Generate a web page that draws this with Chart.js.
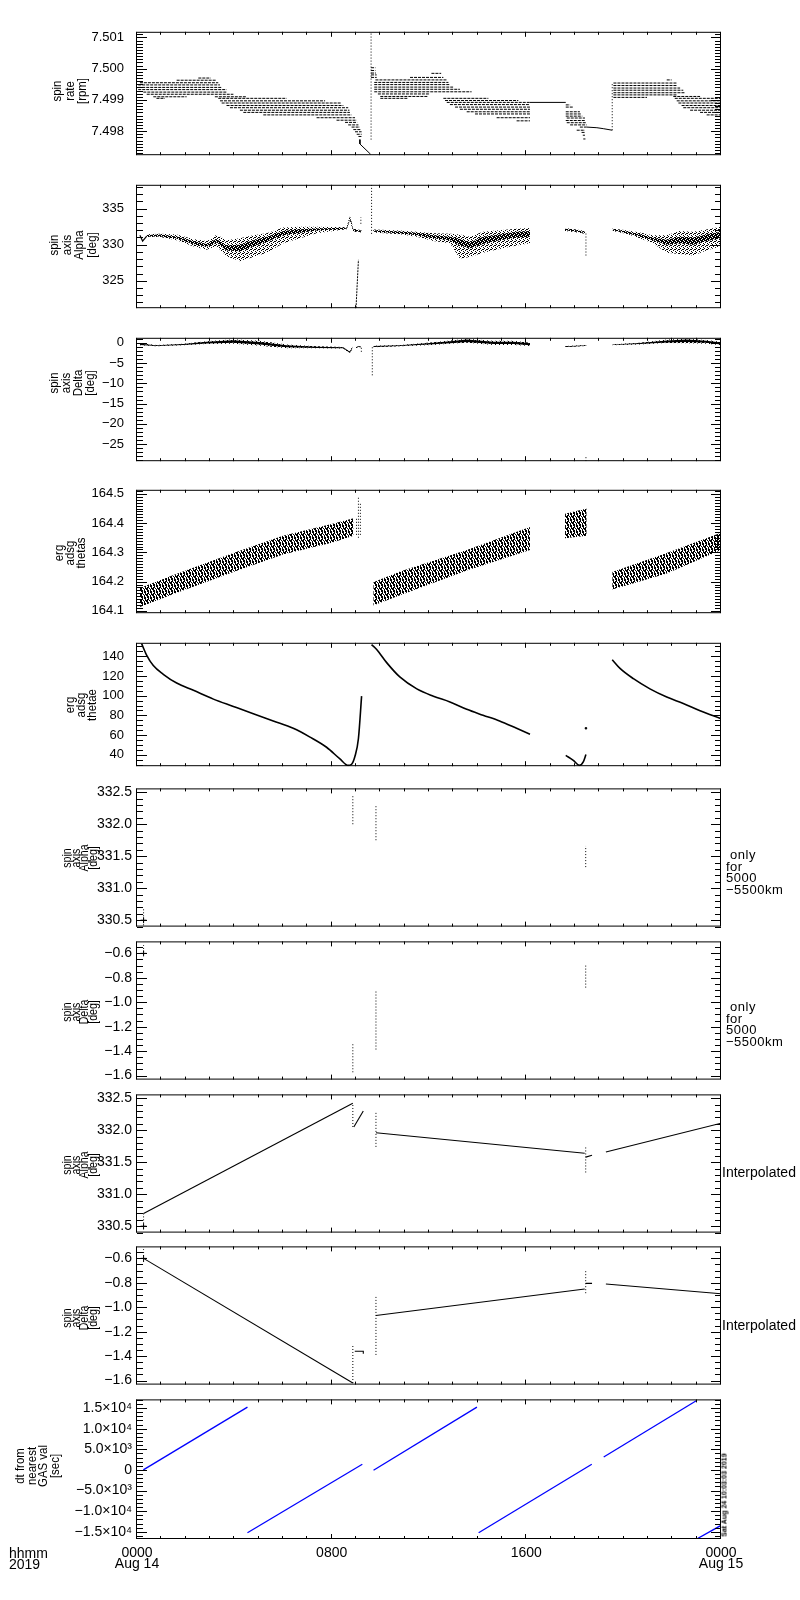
<!DOCTYPE html>
<html><head><meta charset="utf-8">
<script src="https://cdn.jsdelivr.net/npm/chart.js@4.4.0/dist/chart.umd.min.js"></script>
<style>
body{margin:0;background:#fff;width:800px;height:1600px;position:relative;overflow:hidden;font-family:"Liberation Sans",Arial,sans-serif;}
canvas{position:absolute;left:0;}
.t{position:absolute;white-space:pre;color:#000;}
.yt{transform:translate(-50%,-50%) rotate(-90deg) scaleX(0.9);text-align:center;}
</style></head><body>
<script>
// ---------------- time axis ----------------
const xTickHours = [0, 8, 16, 24];
const xTickTop = ['0000', '0800', '1600', '0000'];
const xTickBottom = ['Aug 14', '', '', 'Aug 15'];

// ---------------- panel 1: spin rate [rpm] ----------------
// [tStart(h), tEnd(h), rpm]  quantised dotted rows
const rateRows = [
 [2.52,3.03,7.49970],[1.63,3.27,7.49963],[0.12,3.34,7.49955],[0.05,3.41,7.49948],
 [0.05,3.48,7.49940],[0.05,3.68,7.49933],[0.26,3.68,7.49925],[0.40,3.96,7.49918],
 [0.67,2.04,7.49910],[3.20,4.50,7.49910],[0.80,1.15,7.49905],[3.34,6.15,7.49905],
 [3.41,7.73,7.49897],[3.48,8.40,7.49890],[3.68,8.48,7.49882],[3.82,8.68,7.49875],
 [4.23,8.73,7.49867],[4.37,8.75,7.49860],[5.19,8.82,7.49852],[7.38,8.96,7.49843],
 [8.20,9.03,7.49835],[8.55,9.05,7.49828],[8.68,9.10,7.49820],[8.82,9.16,7.49813],
 [8.89,9.19,7.49805],[8.96,9.23,7.49798],[9.03,9.23,7.49790],[9.10,9.26,7.49783],
 [9.62,9.80,7.50003],[9.62,9.80,7.49994],[9.62,9.82,7.49986],[9.62,9.85,7.49980],
 [9.62,9.85,7.49972],[12.10,12.50,7.49985],[11.22,12.59,7.49972],[9.80,12.73,7.49964],
 [9.75,12.80,7.49956],[9.75,12.86,7.49949],[9.75,12.99,7.49941],[9.75,13.27,7.49934],
 [9.75,13.75,7.49926],[9.90,12.04,7.49919],[10.00,11.97,7.49911],[10.00,11.15,7.49905],
 [12.59,14.44,7.49905],[12.66,15.67,7.49898],[12.73,16.15,7.49892],
 [12.86,16.15,7.49885],[13.07,16.15,7.49877],[13.27,16.15,7.49870],[13.55,16.15,7.49862],
 [13.89,16.15,7.49855],[14.78,16.15,7.49843],[15.60,16.15,7.49833],
 [17.62,17.80,7.49884],[17.62,17.93,7.49877],[17.62,18.20,7.49862],[17.62,18.27,7.49855],
 [17.62,18.30,7.49848],[17.66,18.41,7.49842],[17.62,18.41,7.49834],[17.66,18.48,7.49827],
 [17.80,18.48,7.49820],[18.20,18.48,7.49813],[18.07,18.41,7.49803],[18.27,18.41,7.49796],
 [18.32,18.41,7.49787],[18.34,18.43,7.49775],
 [21.77,21.97,7.49964],[19.58,22.18,7.49954],[19.58,22.18,7.49946],[19.58,22.32,7.49938],
 [19.58,22.45,7.49931],[19.58,22.52,7.49923],[19.58,22.18,7.49916],[19.58,20.96,7.49908],
 [22.04,23.14,7.49911],[22.10,24.00,7.49905],[22.18,24.00,7.49897],[22.25,24.00,7.49890],
 [22.38,24.00,7.49882],[22.45,24.00,7.49875],[22.73,24.00,7.49867],[23.14,24.00,7.49860],
 [23.41,24.00,7.49852]
];
const rateLines = [
 [[9.16,7.49773],[9.16,7.49759],[9.60,7.49726]],
 [[16.15,7.49892],[17.62,7.49892]],
 [[18.48,7.49813],[18.90,7.49811],[19.16,7.49808],[19.53,7.49803]]
];
const rateSpikes = [[9.62,7.49773,7.50118],[19.53,7.49803,7.49952]];
const rateTicks = [7.498, 7.499, 7.500, 7.501];
const rateLabels = ['7.498', '7.499', '7.500', '7.501'];

// ---------------- panel 2: spin axis Alpha [deg] ----------------
// [t, outerLo, coreLo, coreHi, outerHi]
const alphaBandA = [
 [0.40,331.05,331.10,331.35,331.45],[0.95,331.05,331.15,331.40,331.50],
 [1.63,330.60,330.85,331.15,331.40],[2.30,329.80,330.10,330.50,330.80],
 [2.86,329.30,329.70,330.10,330.50],[3.10,329.60,330.00,330.50,330.90],
 [3.27,329.80,330.30,330.80,331.40],[3.68,328.40,329.20,329.90,330.60],
 [4.23,327.70,329.10,330.00,330.90],[4.78,328.30,329.80,330.60,331.30],
 [5.33,328.90,330.40,331.10,331.60],[6.01,330.20,331.30,331.90,332.40],
 [6.70,330.90,331.65,332.15,332.50],[7.38,331.60,331.95,332.25,332.50],
 [8.07,331.90,332.10,332.30,332.45],[8.62,332.15,332.22,332.40,332.45],
 [8.75,333.40,333.50,333.90,334.00],[8.89,331.80,331.85,332.10,332.20],
 [9.23,331.70,331.75,331.95,332.00]
];
const alphaBandB = [
 [9.71,331.70,331.80,332.00,332.10],[10.80,331.45,331.58,331.82,331.95],
 [11.50,331.10,331.30,331.65,331.80],[12.18,330.50,330.90,331.30,331.60],
 [12.86,330.20,330.60,331.10,331.50],[13.27,328.10,329.90,330.80,331.40],
 [13.68,328.30,329.50,330.30,331.10],[14.22,328.90,330.10,331.10,331.80],
 [14.90,329.40,330.60,331.40,332.00],[15.60,329.90,331.00,331.80,332.20],
 [16.15,330.20,331.10,331.90,332.30]
];
const alphaBandC = [
 [17.59,331.90,332.00,332.20,332.30],[18.07,331.70,331.80,332.00,332.10],
 [18.41,331.50,331.60,331.80,331.90]
];
const alphaBandD = [
 [19.53,331.90,332.00,332.15,332.25],[20.10,331.50,331.62,331.88,332.00],
 [20.66,330.90,331.15,331.45,331.70],[21.20,330.20,330.60,330.95,331.30],
 [21.77,328.90,330.00,330.70,331.30],[22.30,328.70,330.20,331.10,331.90],
 [22.86,328.50,330.00,331.00,331.80],[23.40,329.20,330.50,331.40,332.10],
 [24.00,329.80,330.90,331.80,332.50]
];
const alphaLines = [[[0.12,331.3],[0.23,330.5],[0.40,331.2]]];
const alphaSpikes = [[9.64,331.5,338.3],[9.20,332.9,333.8],[18.45,328.5,331.7]];
const alphaSlant = [[9.00,321.2],[9.10,327.9]];
const alphaTicks = [325, 330, 335];
const alphaLabels = ['325', '330', '335'];

// ---------------- panel 3: spin axis Delta [deg] ----------------
const deltaBandA = [
 [0.12,-0.60,-0.50,-0.20,-0.10],[0.80,-0.85,-0.80,-0.60,-0.55],
 [1.90,-0.60,-0.50,-0.30,-0.20],[2.86,-0.30,-0.15,0.25,0.40],
 [3.96,-0.20,0.05,0.65,0.90],[5.05,-0.70,-0.40,0.20,0.50],
 [6.15,-1.30,-1.10,-0.60,-0.40],[7.38,-1.35,-1.25,-0.95,-0.85],
 [8.48,-1.40,-1.30,-1.10,-1.00],[8.75,-2.60,-2.50,-2.20,-2.10],
 [8.86,-1.30,-1.20,-0.90,-0.80]
];
const deltaBandB = [
 [9.71,-1.10,-1.00,-0.80,-0.70],[10.80,-0.85,-0.80,-0.60,-0.55],
 [12.18,-0.50,-0.35,0.00,0.15],[12.86,-0.20,-0.10,0.40,0.60],
 [13.55,0.00,0.20,0.80,1.00],[14.64,-0.50,-0.30,0.30,0.50],
 [15.47,-0.50,-0.30,0.30,0.50],[16.15,-0.75,-0.60,-0.10,0.05]
];
const deltaBandC = [[17.59,-1.05,-1.00,-0.85,-0.80],[18.48,-0.75,-0.70,-0.60,-0.55]];
const deltaBandD = [
 [19.53,-0.60,-0.55,-0.40,-0.35],[20.66,-0.40,-0.30,-0.05,0.05],
 [21.77,-0.05,0.10,0.60,0.80],[22.59,-0.10,0.20,0.80,1.00],
 [23.40,-0.20,0.00,0.50,0.70],[24.00,-0.60,-0.40,0.10,0.30]
];
const deltaLines = [[[9.00,-1.2],[9.10,-0.9],[9.20,-1.0]]];
const deltaSpikes = [[9.67,-8.0,-1.0],[18.45,-29.2,-27.9],[9.22,-2.2,-0.9]];
const deltaTicks = [-25, -20, -15, -10, -5, 0];
const deltaLabels = ['\u221225', '\u221220', '\u221215', '\u221210', '\u22125', '0'];

// ---------------- panel 4: erg adsg thetas ----------------
// [t, lo, hi]
const thetasBandA = [[0.12,164.113,164.178],[1.50,164.158,164.223],[3.96,164.233,164.298],
 [6.00,164.293,164.357],[8.00,164.333,164.397],[8.90,164.357,164.417]];
const thetasBandB = [[9.71,164.118,164.198],[10.81,164.153,164.235],[13.55,164.238,164.308],[16.15,164.308,164.387]];
const thetasBandC = [[17.59,164.348,164.432],[18.48,164.357,164.450]];
const thetasBandD = [[19.53,164.173,164.233],[21.77,164.228,164.298],[24.00,164.308,164.367]];
const thetasSpikes = [[9.02,164.36,164.42],[9.10,164.35,164.49],[9.18,164.36,164.47]];
const thetasTicks = [164.1, 164.2, 164.3, 164.4, 164.5];
const thetasLabels = ['164.1', '164.2', '164.3', '164.4', '164.5'];

// ---------------- panel 5: erg adsg thetae ----------------
const thetaeA = [[0.19,152.7],[0.40,140.9],[0.67,130.5],[1.08,121.7],[1.63,112.8],[2.32,105.4],
 [3.14,96.5],[3.96,89.1],[4.78,81.7],[5.60,74.3],[6.42,66.9],[7.11,58.0],[7.79,47.7],
 [8.34,35.9],[8.68,29.3],[8.82,30.5],[8.96,38.8],[9.10,56.6],[9.23,99.5]];
const thetaeB = [[9.64,151.8],[9.85,146.8],[10.26,133.5],[10.80,119.0],[11.50,106.9],[12.18,99.5],
 [12.86,93.6],[13.55,86.2],[14.22,80.2],[14.90,74.3],[15.60,66.9],[16.15,61.0]];
const thetaeC = [[17.62,39.4],[17.93,34.4],[18.18,29.3],[18.34,32.9],[18.45,40.3]];
const thetaeD = [[19.53,136.4],[19.85,127.6],[20.40,117.2],[21.08,106.9],[21.77,98.6],
 [22.45,92.1],[23.14,84.7],[24.00,76.7]];
const thetaeDots = [[18.45,66.9]];
const thetaeTicks = [40, 60, 80, 100, 120, 140];
const thetaeLabels = ['40', '60', '80', '100', '120', '140'];

// ---------------- panels 6/7: only for 5000-5500km ----------------
const alphaOnlyBars = [[0.27,330.42,330.70],[8.87,332.00,332.44],[9.82,331.75,332.29],[18.44,331.33,331.66]];
const alphaOnlyCross = [[0.27,330.50]];
const deltaOnlyBars = [[0.27,-0.613,-0.533],[8.87,-1.573,-1.333],[9.82,-1.387,-0.900],[18.44,-0.880,-0.700]];
const deltaOnlyCross = [[0.27,-0.60]];
const alphaFineTicks = [330.5, 331.0, 331.5, 332.0, 332.5];
const alphaFineLabels = ['330.5', '331.0', '331.5', '332.0', '332.5'];
const deltaFineTicks = [-1.6, -1.4, -1.2, -1.0, -0.8, -0.6];
const deltaFineLabels = ['\u22121.6', '\u22121.4', '\u22121.2', '\u22121.0', '\u22120.8', '\u22120.6'];

// ---------------- panels 8/9: interpolated ----------------
const alphaInterpLines = [
 [[0.27,330.70],[8.87,332.42]], [[8.91,332.05],[9.30,332.30]],
 [[9.82,331.96],[18.40,331.64]], [[18.44,331.58],[18.70,331.61]],
 [[19.27,331.66],[24.00,332.11]]
];
const alphaInterpBars = [[0.27,330.45,330.70],[8.87,332.05,332.42],[9.82,331.74,332.30],[18.44,331.34,331.74]];
const deltaInterpLines = [
 [[0.27,-0.60],[8.87,-1.62]], [[8.95,-1.36],[9.30,-1.36],[9.30,-1.38]],
 [[9.82,-1.067],[18.40,-0.85]], [[18.44,-0.805],[18.70,-0.805]],
 [[19.27,-0.81],[24.00,-0.89]]
];
const deltaInterpBars = [[0.27,-0.63,-0.525],[8.87,-1.62,-1.31],[9.82,-1.39,-0.91],[18.44,-0.885,-0.70]];

// ---------------- panel 10: dt from nearest GAS val [sec] ----------------
const dtLines = [
 [[0.26,0],[4.54,15224]], [[4.54,-15224],[9.26,1362]], [[9.72,-80],[13.97,15224]],
 [[14.04,-15224],[18.69,1362]], [[19.18,3125],[23.00,16827]], [[23.00,-16750],[24.00,-13460]]
];
const dtTicks = [-15000, -10000, -5000, 0, 5000, 10000, 15000];
const dtLabels = ['\u22121.5\u00d710\u2074', '\u22121.0\u00d710\u2074', '\u22125.0\u00d710\u00b3', '0', '5.0\u00d710\u00b3', '1.0\u00d710\u2074', '1.5\u00d710\u2074'];

// ---------------- fonts / layout ----------------
function hasFont(name){
  const c = document.createElement('canvas').getContext('2d');
  const s = 'mmmmmmmmmwwwwwll1.5';
  c.font = '40px monospace'; const a = c.measureText(s).width;
  c.font = '40px "' + name + '", monospace'; const b = c.measureText(s).width;
  return Math.abs(a - b) > 0.5;
}
const NARROW = hasFont('Liberation Sans Narrow');
const FAM = NARROW ? '"Liberation Sans Narrow", "Liberation Sans", Arial, sans-serif' : '"Liberation Sans", Arial, sans-serif';
const TF1 = NARROW ? 15 : 13;   // tick font, panels 1-5
const TF2 = NARROW ? 15 : 14;   // tick font, panels 6-10
const panelTops = [23, 176, 329, 481, 634, 787, 940, 1093, 1245, 1398];
const PH = 141;

// ---------- helpers ----------
function pts(a){ return a.map(p => ({x:p[0], y:p[1]})); }
function lineDS(points, opt){
  return Object.assign({data: pts(points), showLine:true, borderColor:'#000', borderWidth:1.2,
    pointRadius:0, fill:false, spanGaps:false}, opt||{});
}
function rowsData(rows){
  const d = [];
  rows.forEach(r => { d.push({x:r[0],y:r[2]},{x:r[1],y:r[2]},{x:r[1],y:null}); });
  return d;
}
function barsData(bars){
  const d = [];
  bars.forEach(b => { d.push({x:b[0],y:b[1]},{x:b[0],y:b[2]},{x:b[0],y:null}); });
  return d;
}
function dotted(bars, color){
  return {data: barsData(bars), showLine:true, borderColor: color||'#000', borderWidth:1,
    borderDash:[1,2], pointRadius:0, fill:false, spanGaps:false};
}
function band(rows, loI, hiI, bg){
  return [
    {data: rows.map(r => ({x:r[0], y:r[hiI]})), showLine:true, borderWidth:0, borderColor:'rgba(0,0,0,0)',
     pointRadius:0, fill:'+1', backgroundColor:bg},
    {data: rows.map(r => ({x:r[0], y:r[loI]})), showLine:true, borderWidth:0, borderColor:'rgba(0,0,0,0)',
     pointRadius:0, fill:false}
  ];
}
function makePattern(w, h, cells){
  const c = document.createElement('canvas'); c.width = w; c.height = h;
  const g = c.getContext('2d'); g.fillStyle = '#000';
  cells.forEach(p => g.fillRect(p[0], p[1], p[2]||1, p[3]||1));
  return g.createPattern(c, 'repeat');
}
const sparsePat = makePattern(4, 4, [[0,0],[2,1],[1,2],[3,3],[3,1]]);
const densePat = makePattern(4, 4, [[0,0,3,1],[1,1,3,1],[0,2,2,1],[3,2,1,1],[0,3,1,1],[2,3,2,1]]);
const hatchPat = makePattern(6, 6, [[0,0,1,4],[1,2,1,4],[3,0,1,3],[3,4,1,2],[4,1,1,4],[5,5,1,1],[2,5,1,1],[2,0,1,1]]);

// frame + inward ticks (IDL style)
const framePlugin = {
  id:'frame',
  afterDraw(chart){
    const o = chart.options.plugins.frame;
    const {ctx, chartArea:{left,right,top,bottom}} = chart;
    const xs = chart.scales.x, ys = chart.scales.y;
    ctx.save();
    ctx.strokeStyle = '#000'; ctx.lineWidth = 1;
    ctx.beginPath();
    ctx.rect(left-0.5, top+0.5, right-left, bottom-top-1);
    for (let h = 0; h <= 24; h++){
      const x = Math.round(xs.getPixelForValue(h)) - 0.5;
      const len = (h % 8 === 0) ? 5 : 3;
      ctx.moveTo(x, bottom); ctx.lineTo(x, bottom - len);
      ctx.moveTo(x, top); ctx.lineTo(x, top + len);
    }
    const st = o.minor, mn = ys.min, mx = ys.max;
    const k0 = Math.ceil(mn/st - 1e-6), k1 = Math.floor(mx/st + 1e-6);
    for (let k = k0; k <= k1; k++){
      const v = k*st;
      const major = o.majors.some(m => Math.abs(m - v) < st*0.01);
      const y = Math.round(ys.getPixelForValue(v)) + 0.5;
      const len = major ? 10 : 6;
      ctx.moveTo(left, y); ctx.lineTo(left + len, y);
      ctx.moveTo(right, y); ctx.lineTo(right - len, y);
    }
    ctx.stroke();
    ctx.restore();
  }
};

function makeChart(i, datasets, yr, ticks, labels, minor, tickFont, tickPad){
  const padT = 12, padB = 12, extraB = (i === 9) ? 44 : 0;
  const H = PH + padT + padB + extraB;
  const cv = document.createElement('canvas');
  cv.width = 800; cv.height = H;
  cv.style.top = (panelTops[i] - padT) + 'px';
  cv.style.width = '800px'; cv.style.height = H + 'px';
  document.body.appendChild(cv);
  new Chart(cv, {
    type:'scatter',
    data:{datasets},
    options:{
      responsive:false, animation:false, devicePixelRatio:1, events:[],
      layout:{padding:{left:0, right:79, top:padT, bottom:padB}},
      plugins:{legend:{display:false}, tooltip:{enabled:false}, frame:{majors:ticks, minor:minor}},
      scales:{
        x:{type:'linear', min:0, max:24, display:(i === 9),
           grid:{display:false, drawTicks:false}, border:{display:false},
           afterBuildTicks: s => { s.ticks = xTickHours.map(v => ({value:v})); },
           afterFit: s => { s.height = extraB; },
           ticks:{autoSkip:false, maxRotation:0, minRotation:0, padding:9, color:'#000',
                  font:{family:FAM, size:TF2, lineHeight:'11px'},
                  callback:(v, idx) => [xTickTop[idx], xTickBottom[idx]]}},
        y:{type:'linear', min:yr[0], max:yr[1],
           grid:{display:false, drawTicks:false}, border:{display:false},
           afterBuildTicks: s => { s.ticks = ticks.map(v => ({value:v})); },
           afterFit: s => { s.width = 137; },
           ticks:{autoSkip:false, padding:tickPad, color:'#000', font:{family:FAM, size:tickFont},
                  callback:(v, idx) => labels[idx]}}
      }
    },
    plugins:[framePlugin]
  });
}

// ---------- panel 1 ----------
{
  const ds = [{data: rowsData(rateRows), showLine:true, borderColor:'#000', borderWidth:1,
               borderDash:[3,1], pointRadius:0, fill:false, spanGaps:false}];
  rateLines.forEach(l => ds.push(lineDS(l, {borderWidth:1})));
  ds.push(dotted(rateSpikes));
  makeChart(0, ds, [7.49723, 7.50118], rateTicks, rateLabels, 0.0001, TF1, 13);
}
// ---------- panel 2 ----------
{
  const ds = [];
  [alphaBandA, alphaBandB, alphaBandC, alphaBandD].forEach(b => { ds.push(...band(b, 1, 4, sparsePat)); });
  [alphaBandA, alphaBandB, alphaBandC, alphaBandD].forEach(b => { ds.push(...band(b, 2, 3, densePat)); });
  alphaLines.forEach(l => ds.push(lineDS(l)));
  ds.push(dotted(alphaSpikes));
  ds.push(lineDS(alphaSlant, {borderWidth:1, borderDash:[2,1]}));
  makeChart(1, ds, [321.2, 338.3], alphaTicks, alphaLabels, 1, TF1, 13);
}
// ---------- panel 3 ----------
{
  const ds = [];
  [deltaBandA, deltaBandB, deltaBandC, deltaBandD].forEach(b => { ds.push(...band(b, 1, 4, sparsePat)); });
  [deltaBandA, deltaBandB, deltaBandC, deltaBandD].forEach(b => { ds.push(...band(b, 2, 3, '#000')); });
  deltaLines.forEach(l => ds.push(lineDS(l, {borderWidth:1})));
  ds.push(dotted(deltaSpikes));
  makeChart(2, ds, [-29.2, 1.25], deltaTicks, deltaLabels, 1, TF1, 13);
}
// ---------- panel 4 ----------
{
  const ds = [];
  [thetasBandA, thetasBandB, thetasBandC, thetasBandD].forEach(b => { ds.push(...band(b, 1, 2, hatchPat)); });
  ds.push(dotted(thetasSpikes));
  makeChart(3, ds, [164.092, 164.514], thetasTicks, thetasLabels, 0.01, TF1, 13);
}
// ---------- panel 5 ----------
{
  const ds = [thetaeA, thetaeB, thetaeC, thetaeD].map(l => lineDS(l, {borderWidth:1.6, cubicInterpolationMode:'monotone'}));
  ds.push({data: pts(thetaeDots), showLine:false, pointRadius:1, pointStyle:'rect', backgroundColor:'#000', borderColor:'#000'});
  makeChart(4, ds, [28.5, 153.6], thetaeTicks, thetaeLabels, 5, TF1, 13);
}
// ---------- panel 6 ----------
{
  const ds = [dotted(alphaOnlyBars),
    {data: pts(alphaOnlyCross), showLine:false, pointStyle:'cross', pointRadius:3, borderColor:'#000', borderWidth:1}];
  makeChart(5, ds, [330.40, 332.56], alphaFineTicks, alphaFineLabels, 0.1, TF2, 5);
}
// ---------- panel 7 ----------
{
  const ds = [dotted(deltaOnlyBars),
    {data: pts(deltaOnlyCross), showLine:false, pointStyle:'cross', pointRadius:3, borderColor:'#000', borderWidth:1}];
  makeChart(6, ds, [-1.633, -0.502], deltaFineTicks, deltaFineLabels, 0.05, TF2, 5);
}
// ---------- panel 8 ----------
{
  const ds = alphaInterpLines.map(l => lineDS(l, {borderWidth:1.1}));
  ds.push(dotted(alphaInterpBars));
  ds.push({data: pts(alphaOnlyCross), showLine:false, pointStyle:'cross', pointRadius:3, borderColor:'#000', borderWidth:1});
  makeChart(7, ds, [330.40, 332.56], alphaFineTicks, alphaFineLabels, 0.1, TF2, 5);
}
// ---------- panel 9 ----------
{
  const ds = deltaInterpLines.map(l => lineDS(l, {borderWidth:1.1}));
  ds.push(dotted(deltaInterpBars));
  ds.push({data: pts(deltaOnlyCross), showLine:false, pointStyle:'cross', pointRadius:3, borderColor:'#000', borderWidth:1});
  makeChart(8, ds, [-1.633, -0.502], deltaFineTicks, deltaFineLabels, 0.05, TF2, 5);
}
// ---------- panel 10 ----------
{
  const ds = dtLines.map(l => lineDS(l, {borderColor:'#0000ff', borderWidth:1.3}));
  makeChart(9, ds, [-16750, 17090], dtTicks, dtLabels, 1000, TF2, 5);
}

// ---------- text overlays ----------
const yTitles = [
 ['spin','rate','[rpm]'], ['spin','axis','Alpha','[deg]'], ['spin','axis','Delta','[deg]'],
 ['erg','adsg','thetas'], ['erg','adsg','thetae'], ['spin','axis','Alpha','[deg]'],
 ['spin','axis','Delta','[deg]'], ['spin','axis','Alpha','[deg]'], ['spin','axis','Delta','[deg]'],
 ['dt from','nearest','GAS val','[sec]']
];
// [centerX, centerY, fontSize, lineHeight]
const titlePos = [[70,91,14,12.5],[73,245,14,12.5],[72,383,14,12],[69,553,14,11],[80,705,14,11],
 [80,858,13,8.5],[80,1012,13,8.5],[80,1165,13,8.5],[80,1318,13,8.5],[37,1466,14,11.5]];
function addText(txt, css, cls){
  const d = document.createElement('div');
  d.className = 't' + (cls ? ' ' + cls : '');
  d.textContent = txt;
  Object.assign(d.style, {fontFamily: FAM}, css);
  document.body.appendChild(d);
  return d;
}
const TS = NARROW ? 1 : 0.88;
yTitles.forEach((lines, i) => {
  const p = titlePos[i];
  const fs = NARROW ? p[2] : p[2] - 1;
  addText(lines.join('\n'), {left:p[0]+'px', top:p[1]+'px', fontSize:fs+'px', lineHeight:p[3]+'px',
    transform:'translate(-50%,-50%) rotate(-90deg) scaleX(' + TS + ')'}, 'yt');
});
const sideOnly = ' only\nfor\n5000\n\u22125500km';
const SF = NARROW ? '15px' : '13px';
addText(sideOnly, {left:'726px', top:'849px', fontSize:SF, lineHeight:'11.5px', letterSpacing:'0.5px'});
addText(sideOnly, {left:'726px', top:'1001px', fontSize:SF, lineHeight:'11.5px', letterSpacing:'0.5px'});
addText('Interpolated', {left:'722px', top:'1165px', fontSize:NARROW ? '16px' : '14px', lineHeight:'14px'});
addText('Interpolated', {left:'722px', top:'1318px', fontSize:NARROW ? '16px' : '14px', lineHeight:'14px'});
addText('hhmm\n2019', {left:'9px', top:'1548px', fontSize:TF2+'px', lineHeight:'11px'});
addText('Sat Aug 24 10:03:03 2019', {left:'724px', top:'1495px', fontSize:'7px', fontWeight:'bold', lineHeight:'7px', transform:'translate(-50%,-50%) rotate(-90deg)'}, 'yt');
</script>
</body></html>
